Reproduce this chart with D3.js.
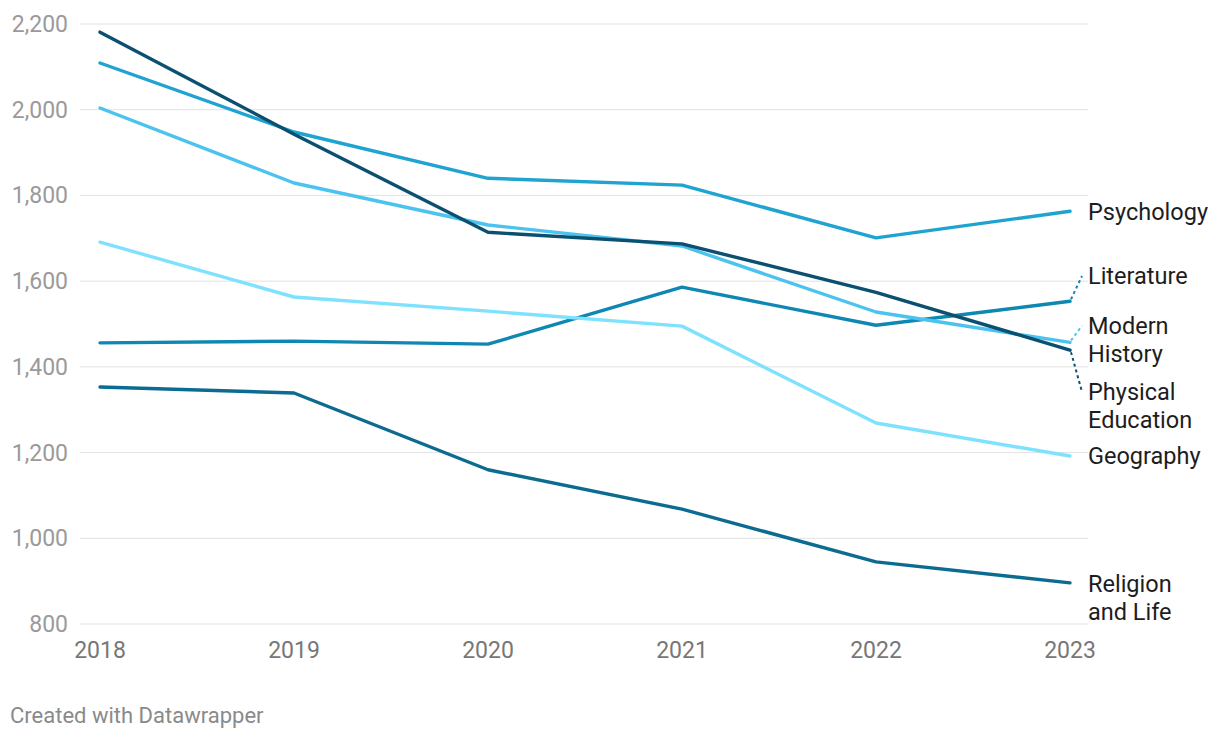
<!DOCTYPE html>
<html>
<head>
<meta charset="utf-8">
<script src="https://cdn.jsdelivr.net/npm/d3@7"></script>
<style>
  html, body { margin: 0; padding: 0; background: #fff; }
  body { width: 1220px; height: 740px; overflow: hidden; font-family: Roboto, "Noto Sans", sans-serif; }
</style>
</head>
<body>
<svg id="chart" width="1220" height="740"></svg>
<script>
const years = [2018, 2019, 2020, 2021, 2022, 2023];
const yTicks = [800, 1000, 1200, 1400, 1600, 1800, 2000, 2200];

const psychology = [2109, 1948, 1840, 1824, 1701, 1763];
const physicalEducation = [2181, 1943, 1714, 1687, 1574, 1439];
const modernHistory = [2004, 1829, 1731, 1682, 1528, 1457];
const geography = [1691, 1563, 1530, 1495, 1269, 1192];
const literature = [1456, 1460, 1453, 1586, 1497, 1553];
const religionAndLife = [1353, 1339, 1160, 1068, 945, 896];

const seriesNames = ["Religion and Life", "Literature", "Geography", "Modern History", "Psychology", "Physical Education"];
const seriesValues = [religionAndLife, literature, geography, modernHistory, psychology, physicalEducation];
const seriesColors = ["#0c6b90", "#0f87b3", "#7ee2ff", "#4cc3ee", "#1fa3d1", "#0b4f71"];
const labelLines = [["Religion", "and Life"], ["Literature"], ["Geography"], ["Modern", "History"], ["Psychology"], ["Physical", "Education"]];

// label layout (vertical centres in y-scale units, after collision avoidance)
const labelCentre = [861, 1612, 1192, 1463, 1761, 1309];

const svg = d3.select("#chart");
const x = d3.scaleLinear().domain([2018, 2023]).range([100, 1070]);
const y = d3.scaleLinear().domain([800, 2200]).range([624, 24]);

// gridlines
svg.append("g").selectAll("line").data(yTicks).join("line")
  .attr("x1", 80).attr("x2", 1088)
  .attr("y1", d => y(d)).attr("y2", d => y(d))
  .attr("stroke", "#e2e2e2").attr("stroke-width", 1);

// y axis labels
svg.append("g").selectAll("text").data(yTicks).join("text")
  .attr("x", 68).attr("y", d => y(d)).attr("dy", "0.35em")
  .attr("text-anchor", "end")
  .attr("font-size", 23).attr("fill", "#9a9a9a")
  .text(d => d3.format(",")(d));

// x axis labels
svg.append("g").selectAll("text").data(years).join("text")
  .attr("x", d => x(d)).attr("y", 658)
  .attr("text-anchor", "middle")
  .attr("font-size", 23).attr("fill", "#777")
  .text(d => d);

const line = d3.line().x((d, i) => x(years[i])).y(d => y(d));

svg.append("g").selectAll("path").data(seriesValues).join("path")
  .attr("d", d => line(d))
  .attr("fill", "none")
  .attr("stroke", (d, i) => seriesColors[i])
  .attr("stroke-width", 3.4)
  .attr("stroke-linejoin", "round")
  .attr("stroke-linecap", "round");

// labels
const lh = 28;
const lg = svg.append("g");
seriesNames.forEach((name, i) => {
  const lines = labelLines[i];
  const cy = y(labelCentre[i]);
  const top = cy - (lines.length - 1) * lh / 2;
  const t = lg.append("text").attr("font-size", 23.5).attr("fill", "#1d1d1d");
  lines.forEach((ln, j) => {
    t.append("tspan").attr("x", 1088).attr("y", top + j * lh).attr("dy", "0.35em").text(ln);
  });
});

// connector dotted lines from line end to first label line
[1, 3, 5].forEach(i => {
  const vals = seriesValues[i];
  const nl = labelLines[i].length;
  const ty = y(labelCentre[i]) - (nl - 1) * lh / 2;
  const sy = y(vals[vals.length - 1]);
  svg.append("line")
    .attr("x1", x(2023) + 1).attr("y1", sy + (ty > sy ? 2 : -2))
    .attr("x2", 1082).attr("y2", ty)
    .attr("stroke", seriesColors[i]).attr("stroke-width", 2)
    .attr("stroke-dasharray", "3,3");
});

// footer
svg.append("text").attr("x", 10).attr("y", 723)
  .attr("font-size", 22).attr("fill", "#8a8a8a")
  .text("Created with Datawrapper");
</script>
</body>
</html>
